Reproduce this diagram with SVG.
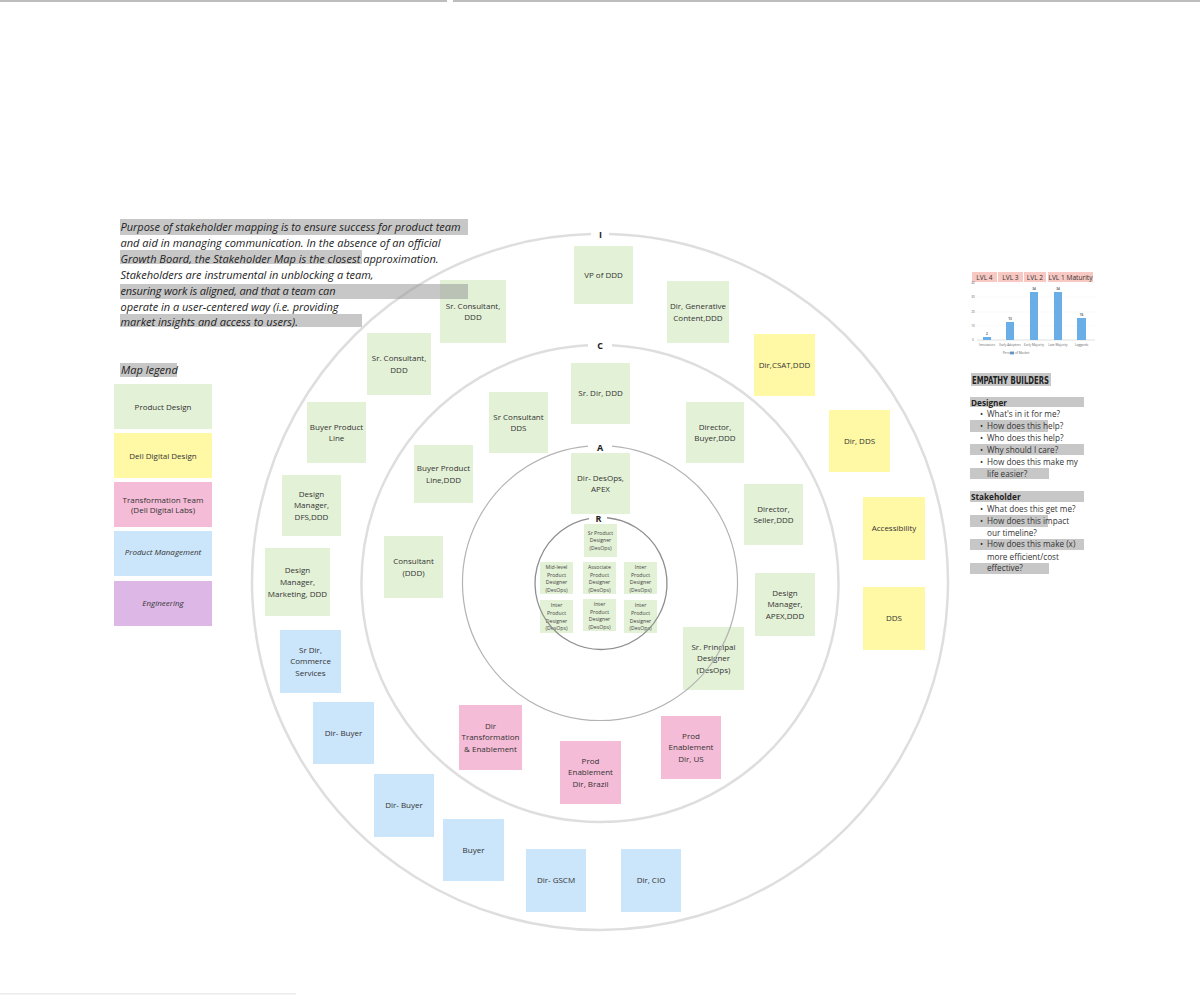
<svg xmlns="http://www.w3.org/2000/svg" width="1200" height="1000" viewBox="0 0 1200 1000">
<style>
  .g { fill: #e3f1d7; }
  .y { fill: #fff9a6; }
  .p { fill: #f5bcd7; }
  .b { fill: #cbe5fa; }
  .v { fill: #ddb8e7; }
  .t { font-family: "Open Sans", "Liberation Sans", sans-serif; font-size: 8px; fill: #333; text-anchor: middle; }
  .ts { font-family: "Open Sans", "Liberation Sans", sans-serif; font-size: 5.2px; fill: #444; text-anchor: middle; }
  .ring { fill: none; }
  .r1 { stroke: #dedede; stroke-width: 2.5; }
  .r2 { stroke: #b3b3b3; stroke-width: 1.2; }
  .r3 { stroke: #8f8f8f; stroke-width: 1.3; }
  .rl { font-family: "Open Sans", "Liberation Sans", sans-serif; font-size: 9px; font-weight: bold; fill: #222; text-anchor: middle; }
  .hl { fill: #999; fill-opacity: 0.55; }
  .para { font-family: "Open Sans", "Liberation Sans", sans-serif; font-size: 11px; font-style: italic; fill: #222; }
  .eb { font-family: "Open Sans", "Liberation Sans", sans-serif; font-size: 8.2px; fill: #333; }
  .ebb { font-family: "Open Sans", "Liberation Sans", sans-serif; font-size: 8.2px; font-weight: bold; fill: #222; }
  .lvl { fill: #f8c8c2; }
  .lvlt { font-family: "Open Sans", "Liberation Sans", sans-serif; font-size: 6.6px; fill: #333; text-anchor: middle; }
  .ct { font-family: "Open Sans", "Liberation Sans", sans-serif; font-size: 3.2px; fill: #666; text-anchor: middle; }
  .bar { fill: #6aaee8; }
</style>

<!-- page edges -->
<rect x="0" y="0" width="447" height="2" fill="#bdbdbd"/>
<rect x="453" y="0" width="747" height="2" fill="#bdbdbd"/>
<rect x="0" y="993" width="296" height="1.5" fill="#ececec"/>

<!-- nodes -->
<g id="node-vp-ddd"><rect class="g" x="574" y="246" width="59" height="58"/><text class="t" x="603.5" y="277.8">VP of DDD</text></g>
<g id="node-sr-consultant-ddd-1"><rect class="g" x="440" y="280" width="66" height="63"/><text class="t"><tspan x="473" y="308.5">Sr. Consultant,</tspan><tspan x="473" y="320.2">DDD</tspan></text></g>
<g id="node-dir-generative"><rect class="g" x="667" y="281" width="62" height="62"/><text class="t"><tspan x="698" y="309">Dir, Generative</tspan><tspan x="698" y="320.7">Content,DDD</tspan></text></g>
<g id="node-sr-consultant-ddd-2"><rect class="g" x="367" y="333" width="64" height="62"/><text class="t"><tspan x="399" y="361">Sr. Consultant,</tspan><tspan x="399" y="372.7">DDD</tspan></text></g>
<g id="node-sr-dir-ddd"><rect class="g" x="571" y="363" width="59" height="61"/><text class="t" x="600.5" y="396.3">Sr. Dir, DDD</text></g>
<g id="node-sr-consultant-dds"><rect class="g" x="489" y="392" width="59" height="61"/><text class="t"><tspan x="518.5" y="419.5">Sr Consultant</tspan><tspan x="518.5" y="431.2">DDS</tspan></text></g>
<g id="node-director-buyer"><rect class="g" x="686" y="402" width="58" height="61"/><text class="t"><tspan x="715" y="429.5">Director,</tspan><tspan x="715" y="441.2">Buyer,DDD</tspan></text></g>
<g id="node-buyer-product-line"><rect class="g" x="307" y="402" width="59" height="61"/><text class="t"><tspan x="336.5" y="429.5">Buyer Product</tspan><tspan x="336.5" y="441.2">Line</tspan></text></g>
<g id="node-buyer-product-line-ddd"><rect class="g" x="414" y="445" width="59" height="58"/><text class="t"><tspan x="443.5" y="471">Buyer Product</tspan><tspan x="443.5" y="482.7">Line,DDD</tspan></text></g>
<g id="node-dir-desops-apex"><rect class="g" x="571" y="453" width="59" height="61"/><text class="t"><tspan x="600.5" y="480.5">Dir- DesOps,</tspan><tspan x="600.5" y="492.2">APEX</tspan></text></g>
<g id="node-design-manager-dfs"><rect class="g" x="282" y="475" width="59" height="61"/><text class="t"><tspan x="311.5" y="496.6">Design</tspan><tspan x="311.5" y="508.3">Manager,</tspan><tspan x="311.5" y="520">DFS,DDD</tspan></text></g>
<g id="node-director-seller"><rect class="g" x="744" y="484" width="59" height="61"/><text class="t"><tspan x="773.5" y="511.5">Director,</tspan><tspan x="773.5" y="523.2">Seller,DDD</tspan></text></g>
<g id="node-consultant-ddd"><rect class="g" x="384" y="536" width="59" height="62"/><text class="t"><tspan x="413.5" y="564">Consultant</tspan><tspan x="413.5" y="575.7">(DDD)</tspan></text></g>
<g id="node-design-manager-marketing"><rect class="g" x="265" y="548" width="65" height="68"/><text class="t"><tspan x="297.5" y="573.1">Design</tspan><tspan x="297.5" y="584.8">Manager,</tspan><tspan x="297.5" y="596.5">Marketing, DDD</tspan></text></g>
<g id="node-design-manager-apex"><rect class="g" x="755" y="573" width="60" height="63"/><text class="t"><tspan x="785" y="595.6">Design</tspan><tspan x="785" y="607.3">Manager,</tspan><tspan x="785" y="619">APEX,DDD</tspan></text></g>
<g id="node-sr-principal-designer"><rect class="g" x="683" y="627" width="61" height="63"/><text class="t"><tspan x="713.5" y="649.6">Sr. Principal</tspan><tspan x="713.5" y="661.3">Designer</tspan><tspan x="713.5" y="673">(DesOps)</tspan></text></g>

<g id="node-dir-csat"><rect class="y" x="754" y="334" width="61" height="62"/><text class="t" x="784.5" y="367.8">Dir,CSAT,DDD</text></g>
<g id="node-dir-dds"><rect class="y" x="829" y="410" width="61" height="62"/><text class="t" x="859.5" y="443.8">Dir, DDS</text></g>
<g id="node-accessibility"><rect class="y" x="863" y="497" width="62" height="63"/><text class="t" x="894" y="531.3">Accessibility</text></g>
<g id="node-dds"><rect class="y" x="863" y="587" width="62" height="63"/><text class="t" x="894" y="621.3">DDS</text></g>

<g id="node-dir-transformation"><rect class="p" x="459" y="705" width="63" height="65"/><text class="t"><tspan x="490.5" y="728.6">Dir</tspan><tspan x="490.5" y="740.3">Transformation</tspan><tspan x="490.5" y="752">&amp; Enablement</tspan></text></g>
<g id="node-prod-enablement-brazil"><rect class="p" x="560" y="741" width="61" height="63"/><text class="t"><tspan x="590.5" y="763.6">Prod</tspan><tspan x="590.5" y="775.3">Enablement</tspan><tspan x="590.5" y="787">Dir, Brazil</tspan></text></g>
<g id="node-prod-enablement-us"><rect class="p" x="661" y="716" width="60" height="63"/><text class="t"><tspan x="691" y="738.6">Prod</tspan><tspan x="691" y="750.3">Enablement</tspan><tspan x="691" y="762">Dir, US</tspan></text></g>

<g id="node-sr-dir-commerce"><rect class="b" x="280" y="630" width="61" height="63"/><text class="t"><tspan x="310.5" y="652.6">Sr Dir,</tspan><tspan x="310.5" y="664.3">Commerce</tspan><tspan x="310.5" y="676">Services</tspan></text></g>
<g id="node-dir-buyer-1"><rect class="b" x="313" y="702" width="61" height="62"/><text class="t" x="343.5" y="735.8">Dir- Buyer</text></g>
<g id="node-dir-buyer-2"><rect class="b" x="374" y="774" width="60" height="63"/><text class="t" x="404" y="808.3">Dir- Buyer</text></g>
<g id="node-buyer"><rect class="b" x="443" y="819" width="61" height="62"/><text class="t" x="473.5" y="852.8">Buyer</text></g>
<g id="node-dir-gscm"><rect class="b" x="526" y="849" width="60" height="63"/><text class="t" x="556" y="883.3">Dir- GSCM</text></g>
<g id="node-dir-cio"><rect class="b" x="621" y="849" width="60" height="63"/><text class="t" x="651" y="883.3">Dir, CIO</text></g>

<g id="node-r-sr-product-designer"><rect class="g" x="584" y="524" width="33" height="33"/><text class="ts"><tspan x="600.5" y="534.6">Sr Product</tspan><tspan x="600.5" y="542.3">Designer</tspan><tspan x="600.5" y="550">(DesOps)</tspan></text></g>
<g id="node-r-mid-level"><rect class="g" x="540" y="562" width="33" height="32"/><text class="ts"><tspan x="556.5" y="568.8">Mid-level</tspan><tspan x="556.5" y="576.5">Product</tspan><tspan x="556.5" y="584.2">Designer</tspan><tspan x="556.5" y="591.9">(DesOps)</tspan></text></g>
<g id="node-r-associate"><rect class="g" x="583" y="562" width="33" height="32"/><text class="ts"><tspan x="599.5" y="568.8">Associate</tspan><tspan x="599.5" y="576.5">Product</tspan><tspan x="599.5" y="584.2">Designer</tspan><tspan x="599.5" y="591.9">(DesOps)</tspan></text></g>
<g id="node-r-inter-1"><rect class="g" x="624" y="562" width="33" height="32"/><text class="ts"><tspan x="640.5" y="568.8">Inter</tspan><tspan x="640.5" y="576.5">Product</tspan><tspan x="640.5" y="584.2">Designer</tspan><tspan x="640.5" y="591.9">(DesOps)</tspan></text></g>
<g id="node-r-inter-2"><rect class="g" x="540" y="600" width="33" height="33"/><text class="ts"><tspan x="556.5" y="607.3">Inter</tspan><tspan x="556.5" y="615">Product</tspan><tspan x="556.5" y="622.7">Designer</tspan><tspan x="556.5" y="630.4">(DesOps)</tspan></text></g>
<g id="node-r-inter-3"><rect class="g" x="583" y="599" width="33" height="32"/><text class="ts"><tspan x="599.5" y="605.8">Inter</tspan><tspan x="599.5" y="613.5">Product</tspan><tspan x="599.5" y="621.2">Designer</tspan><tspan x="599.5" y="628.9">(DesOps)</tspan></text></g>
<g id="node-r-inter-4"><rect class="g" x="624" y="600" width="33" height="33"/><text class="ts"><tspan x="640.5" y="607.3">Inter</tspan><tspan x="640.5" y="615">Product</tspan><tspan x="640.5" y="622.7">Designer</tspan><tspan x="640.5" y="630.4">(DesOps)</tspan></text></g>

<!-- rings -->
<g id="rings">
  <path class="ring r1" d="M 609 234.12 A 348 348 0 1 1 591 234.12"/>
  <path class="ring r1" d="M 612 345.3 A 238.5 238.5 0 1 1 588 345.3"/>
  <path class="ring r2" d="M 612 446.03 A 137.5 137.5 0 1 1 588 446.03"/>
  <path class="ring r3" d="M 607 517.77 A 66 66 0 1 1 589 518.6"/>
  <text class="rl" x="600.5" y="237.5">I</text>
  <text class="rl" x="600" y="348.5">C</text>
  <text class="rl" x="600" y="450.5">A</text>
  <text class="rl" x="598.5" y="521.5">R</text>
</g>

<g id="connectors"></g>

<!-- purpose text -->
<g id="purpose">
  <rect class="hl" x="120" y="219" width="348" height="16"/>
  <rect class="hl" x="120" y="250" width="242" height="14"/>
  <rect class="hl" x="120" y="284" width="348" height="15"/>
  <rect class="hl" x="120" y="314" width="242" height="13"/>
  <text class="para">
    <tspan x="120.5" y="230.5" textLength="340">Purpose of stakeholder mapping is to ensure success for product team</tspan>
    <tspan x="120.5" y="246.5" textLength="320">and aid in managing communication. In the absence of an official</tspan>
    <tspan x="120.5" y="262.5" textLength="318">Growth Board, the Stakeholder Map is the closest approximation.</tspan>
    <tspan x="120.5" y="278.5" textLength="253">Stakeholders are instrumental in unblocking a team,</tspan>
    <tspan x="120.5" y="294.5" textLength="215">ensuring work is aligned, and that a team can</tspan>
    <tspan x="120.5" y="310.5" textLength="218">operate in a user-centered way (i.e. providing</tspan>
    <tspan x="120.5" y="325.5">market insights and access to users).</tspan>
  </text>
</g>

<!-- legend -->
<g id="legend">
  <rect class="hl" x="120" y="363" width="57" height="14"/>
  <text class="para" x="121" y="374">Map legend</text>
  <g id="legend-product-design"><rect class="g" x="114" y="384" width="98" height="45"/><text class="t" x="163" y="409.5">Product Design</text></g>
  <g id="legend-dell-digital-design"><rect class="y" x="114" y="433" width="98" height="45"/><text class="t" x="163" y="458.5">Dell Digital Design</text></g>
  <g id="legend-transformation"><rect class="p" x="114" y="482" width="98" height="45"/><text class="t"><tspan x="163" y="502.5">Transformation Team</tspan><tspan x="163" y="513">(Dell Digital Labs)</tspan></text></g>
  <g id="legend-product-management"><rect class="b" x="114" y="531" width="98" height="45"/><text class="t" x="163" y="555" font-style="italic">Product Management</text></g>
  <g id="legend-engineering"><rect class="v" x="114" y="581" width="98" height="45"/><text class="t" x="163" y="606" font-style="italic">Engineering</text></g>
</g>

<!-- chart -->
<g id="chart">
  <rect class="lvl" x="972" y="272" width="25" height="10"/>
  <rect class="lvl" x="998" y="272" width="25" height="10"/>
  <rect class="lvl" x="1024" y="272" width="22" height="10"/>
  <rect class="lvl" x="1048" y="272" width="45" height="10"/>
  <text class="lvlt" x="984.5" y="279.8">LVL 4</text>
  <text class="lvlt" x="1010.5" y="279.8">LVL 3</text>
  <text class="lvlt" x="1035" y="279.8">LVL 2</text>
  <text class="lvlt" x="1070.5" y="279.8">LVL 1 Maturity</text>
  <g stroke="#f0f0f0" stroke-width="0.5">
    <line x1="977" y1="283" x2="1095" y2="283"/>
    <line x1="977" y1="297" x2="1095" y2="297"/>
    <line x1="977" y1="312" x2="1095" y2="312"/>
    <line x1="977" y1="326" x2="1095" y2="326"/>
  </g>
  <line x1="977" y1="340" x2="1095" y2="340" stroke="#cfcfcf" stroke-width="0.6"/>
  <text class="ct" x="973" y="284">40</text>
  <text class="ct" x="973" y="298">30</text>
  <text class="ct" x="973" y="313">20</text>
  <text class="ct" x="973" y="327">10</text>
  <text class="ct" x="973" y="341">0</text>
  <rect class="bar" x="983" y="337" width="8" height="3"/>
  <rect class="bar" x="1006" y="322" width="8" height="18"/>
  <rect class="bar" x="1030" y="292" width="8" height="48"/>
  <rect class="bar" x="1054" y="292" width="8" height="48"/>
  <rect class="bar" x="1077" y="318" width="9" height="22"/>
  <text class="ct" x="987" y="335" font-weight="bold">2</text>
  <text class="ct" x="1010" y="320" font-weight="bold">13</text>
  <text class="ct" x="1034" y="290" font-weight="bold">34</text>
  <text class="ct" x="1058" y="290" font-weight="bold">34</text>
  <text class="ct" x="1081.5" y="316" font-weight="bold">16</text>
  <text class="ct" x="987" y="346" font-size="2.6">Innovators</text>
  <text class="ct" x="1010" y="346" font-size="2.6">Early Adopters</text>
  <text class="ct" x="1034" y="346" font-size="2.6">Early Majority</text>
  <text class="ct" x="1058" y="346" font-size="2.6">Late Majority</text>
  <text class="ct" x="1081.5" y="346" font-size="2.6">Laggards</text>
  <rect class="bar" x="1010" y="351.5" width="4" height="3"/>
  <text class="ct" x="1016" y="354.3" text-anchor="start">Percent of Market</text>
</g>

<!-- empathy builders -->
<g id="empathy-builders">
  <rect class="hl" x="971" y="373" width="80" height="13"/>
  <text x="972" y="384" font-family="'Liberation Sans Narrow', 'DejaVu Sans Condensed', 'Liberation Sans', sans-serif" font-size="11" font-weight="bold" fill="#222" textLength="77" lengthAdjust="spacingAndGlyphs">EMPATHY BUILDERS</text>

  <rect class="hl" x="970" y="397" width="114" height="10"/>
  <rect class="hl" x="970" y="420" width="78" height="12"/>
  <rect class="hl" x="970" y="444" width="114" height="11"/>
  <rect class="hl" x="970" y="468" width="79" height="11"/>
  <text class="ebb" x="971" y="405.5">Designer</text>
  <text class="eb">
    <tspan x="980" y="417">•</tspan><tspan x="987" y="417">What's in it for me?</tspan>
    <tspan x="980" y="429">•</tspan><tspan x="987" y="429">How does this help?</tspan>
    <tspan x="980" y="440.5">•</tspan><tspan x="987" y="440.5">Who does this help?</tspan>
    <tspan x="980" y="453">•</tspan><tspan x="987" y="453">Why should I care?</tspan>
    <tspan x="980" y="465">•</tspan><tspan x="987" y="465">How does this make my</tspan>
    <tspan x="987" y="477">life easier?</tspan>
  </text>

  <rect class="hl" x="970" y="491" width="114" height="11"/>
  <rect class="hl" x="970" y="515" width="78" height="12"/>
  <rect class="hl" x="970" y="539" width="114" height="11"/>
  <rect class="hl" x="970" y="563" width="79" height="11"/>
  <text class="ebb" x="971" y="500">Stakeholder</text>
  <text class="eb">
    <tspan x="980" y="512">•</tspan><tspan x="987" y="512">What does this get me?</tspan>
    <tspan x="980" y="524">•</tspan><tspan x="987" y="524">How does this impact</tspan>
    <tspan x="987" y="535.5">our timeline?</tspan>
    <tspan x="980" y="547">•</tspan><tspan x="987" y="547">How does this make (x)</tspan>
    <tspan x="987" y="560">more efficient/cost</tspan>
    <tspan x="987" y="571">effective?</tspan>
  </text>
</g>
</svg>
